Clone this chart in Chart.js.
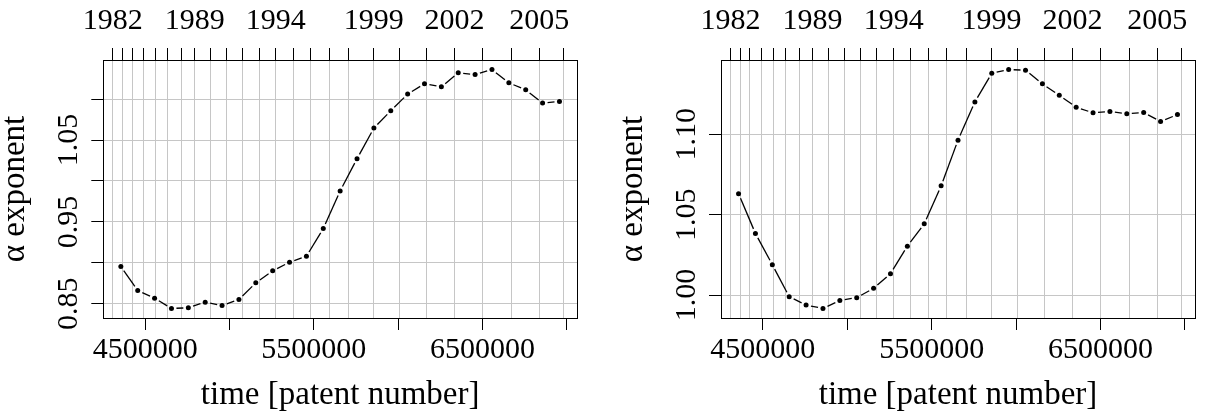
<!DOCTYPE html>
<html>
<head>
<meta charset="utf-8">
<title>alpha exponent over time</title>
<script src="https://cdn.jsdelivr.net/npm/chart.js@4/dist/chart.umd.min.js"></script>
<style>
  html, body { margin: 0; padding: 0; background: #fff; }
  #wrap { position: relative; width: 1205px; height: 420px; }
  .panel { position: absolute; top: 0; height: 420px; }
  #p1 { left: 0; width: 600px; }
  #p2 { left: 600px; width: 605px; }
</style>
</head>
<body>
<div id="wrap">
  <div class="panel" id="p1"><canvas id="c1"></canvas></div>
  <div class="panel" id="p2"><canvas id="c2"></canvas></div>
</div>
<script>
// Window positions (patent number) at which the exponent was estimated
const patentNumbers = [
  4356000, 4456000, 4556000, 4656000, 4756000, 4856000, 4956000, 5056000, 5156000,
  5256000, 5356000, 5456000, 5556000, 5656000, 5756000, 5856000, 5956000, 6056000,
  6156000, 6256000, 6356000, 6456000, 6556000, 6656000, 6756000, 6856000, 6956000
];

// Exponent estimates, left panel
const alphaLeft = [
  0.8955, 0.8662, 0.8569, 0.8443, 0.8451, 0.8520, 0.8479, 0.8552, 0.8756,
  0.8902, 0.9007, 0.9080, 0.9418, 0.9878, 1.0272, 1.0646, 1.0857, 1.1061,
  1.1187, 1.1150, 1.1321, 1.1300, 1.1361, 1.1199, 1.1113, 1.0951, 1.0971
];

// Exponent estimates, right panel
const alphaRight = [
  1.0630, 1.0383, 1.0189, 0.9990, 0.9938, 0.9917, 0.9967, 0.9984, 1.0042,
  1.0133, 1.0304, 1.0443, 1.0679, 1.0963, 1.1201, 1.1379, 1.1402, 1.1398,
  1.1313, 1.1242, 1.1168, 1.1133, 1.1141, 1.1127, 1.1135, 1.1079, 1.1122
];

// First patent number granted in each year 1982..2006 (top axis)
const yearStartPatents = [
  4308622, 4366638, 4423523, 4490855, 4562596, 4633822, 4716594, 4794652, 4890335,
  4980927, 5077836, 5175886, 5274846, 5377359, 5479658, 5590420, 5704101, 5855021,
  6009555, 6167569, 6334220, 6502244, 6671884, 6836899, 6981282
];
const yearLabels = [
  '1982', '', '', '', '', '', '', '1989', '', '', '', '', '1994', '', '', '', '', '1999',
  '', '', '2002', '', '', '2005', ''
];

// Bottom axis ticks
const xTickValues = [4500000, 5000000, 5500000, 6000000, 6500000, 7000000];
const xTickLabels = ['4500000', '', '5500000', '', '6500000', ''];

// Left-hand axis ticks for each panel
const yTicksLeft = [0.85, 0.90, 0.95, 1.00, 1.05, 1.10];
const yLabelsLeft = ['0.85', '', '0.95', '', '1.05', ''];
const yTicksRight = [1.00, 1.05, 1.10];
const yLabelsRight = ['1.00', '1.05', '1.10'];

const GRID = '#c6c6c6';
const INK = '#000';
const FONT = { family: 'Liberation Serif', size: 30 };
const TITLE_FONT = { family: 'Liberation Serif', size: 33, lineHeight: 1 };

Chart.defaults.font.family = 'Liberation Serif';
Chart.defaults.color = INK;

// axis range padded by 4% on each side
function paddedRange(values) {
  const lo = Math.min(...values), hi = Math.max(...values);
  const d = (hi - lo) * 0.04;
  return { min: lo - d, max: hi + d };
}

// line segments stop short of each point marker
const GAP = 5;
function gapDash(ctx) {
  const L = Math.hypot(ctx.p1.x - ctx.p0.x, ctx.p1.y - ctx.p0.y);
  if (L <= 2 * GAP) return [0, L + 1];
  return [0, GAP, L - 2 * GAP, GAP];
}

function makePanel(canvasId, values, yTicks, yLabels, padLeft, padRight) {
  const xr = paddedRange(patentNumbers);
  const yr = paddedRange(values);
  return new Chart(document.getElementById(canvasId), {
    type: 'line',
    data: {
      datasets: [{
        data: patentNumbers.map((x, i) => ({ x: x, y: values[i] })),
        xAxisID: 'x',
        yAxisID: 'y',
        borderColor: INK,
        borderWidth: 1.3,
        borderCapStyle: 'butt',
        tension: 0,
        fill: false,
        pointRadius: 2.5,
        pointHoverRadius: 2.5,
        pointBackgroundColor: INK,
        pointBorderWidth: 0,
        segment: { borderDash: gapDash }
      }]
    },
    options: {
      responsive: true,
      maintainAspectRatio: false,
      animation: false,
      events: [],
      layout: { padding: { left: padLeft, right: padRight, top: 0, bottom: 0 } },
      plugins: { legend: { display: false }, tooltip: { enabled: false } },
      scales: {
        x: {
          type: 'linear', position: 'bottom', min: xr.min, max: xr.max,
          afterBuildTicks: s => { s.ticks = xTickValues.map(v => ({ value: v })); },
          ticks: {
            autoSkip: false, minRotation: 0, maxRotation: 0, padding: 2,
            color: INK, font: FONT,
            callback: (v, i) => xTickLabels[i]
          },
          grid: { drawOnChartArea: false, drawTicks: true, tickLength: 12, tickColor: INK, lineWidth: 1 },
          border: { display: true, color: INK, width: 1 },
          title: {
            display: true, text: 'time [patent number]', color: INK, font: TITLE_FONT,
            padding: { top: 0, bottom: 7.9 }
          },
          afterFit: s => { s.height = 102; }
        },
        xTop: {
          type: 'linear', position: 'top', min: xr.min, max: xr.max,
          afterBuildTicks: s => { s.ticks = yearStartPatents.map(v => ({ value: v })); },
          ticks: {
            autoSkip: false, minRotation: 0, maxRotation: 0, padding: 8.4,
            color: INK, font: FONT,
            callback: (v, i) => yearLabels[i]
          },
          grid: { drawOnChartArea: true, color: GRID, lineWidth: 1, drawTicks: true, tickLength: 12, tickColor: INK },
          border: { display: true, color: INK, width: 1 },
          afterFit: s => { s.height = 60; }
        },
        y: {
          type: 'linear', position: 'left', min: yr.min, max: yr.max,
          afterBuildTicks: s => { s.ticks = yTicks.map(v => ({ value: v })); },
          ticks: {
            autoSkip: false, minRotation: 90, maxRotation: 90, crossAlign: 'center', padding: -4,
            color: INK, font: FONT,
            callback: (v, i) => yLabels[i]
          },
          grid: { color: GRID, lineWidth: 1, drawTicks: true, tickLength: 12, tickColor: INK },
          border: { display: true, color: INK, width: 1 },
          title: {
            display: true, text: 'α exponent', color: INK, font: TITLE_FONT,
            padding: { top: -0.9, bottom: 0 }
          },
          afterFit: s => { s.width = 103.3; }
        },
        yEdge: {
          type: 'linear', position: 'right', min: yr.min, max: yr.max,
          ticks: { display: false },
          grid: { drawOnChartArea: false, drawTicks: false },
          border: { display: true, color: INK, width: 1 },
          afterFit: s => { s.width = 0; }
        }
      }
    }
  });
}

makePanel('c1', alphaLeft, yTicksLeft, yLabelsLeft, 0, 23);
makePanel('c2', alphaRight, yTicksRight, yLabelsRight, 17.7, 10);
</script>
</body>
</html>
